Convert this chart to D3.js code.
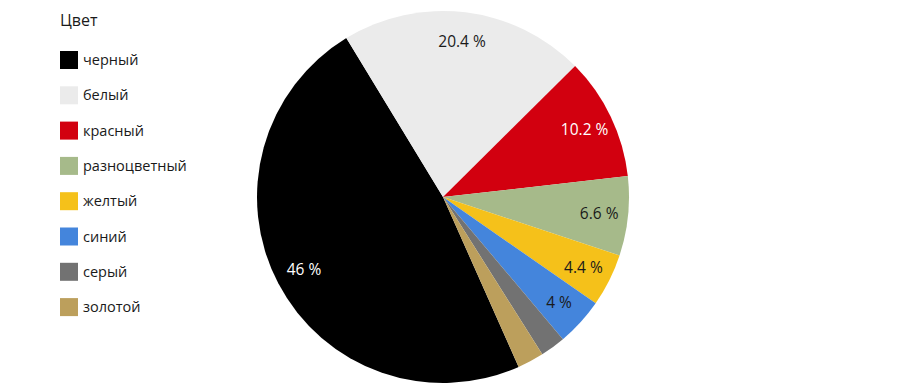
<!DOCTYPE html>
<html>
<head>
<meta charset="utf-8">
<script src="https://cdn.jsdelivr.net/npm/d3@7"></script>
<style>
    body { margin: 0; background: #fff; }
    text { font-family: "Open Sans", "Noto Sans", sans-serif; }
</style>
</head>
<body>
<script>
(function () {

//chart data
    var categories = ["черный", "белый", "красный", "разноцветный", "желтый", "синий", "серый", "золотой"];
    var shares = [46, 20.4, 10.2, 6.6, 4.4, 4, 2.1, 2.2]; //percent of all, small ones unlabeled
    var colors = ["#000000", "#ebebeb", "#d2000f", "#a6ba8a", "#f5c11a", "#4485dc", "#727272", "#bc9f5c"];
    var labelColors = ["#ffffff", "#1a1a1a", "#ffffff", "#1a1a1a", "#1a1a1a", "#1a1a1a", "#1a1a1a", "#1a1a1a"];
    var legendTitle = "Цвет";

    var width = 900,
        height = 386,
        cx = 443,
        cy = 197,
        radius = 186,
        startAngle = 156 * Math.PI / 180;

    var svg = d3.select("body")
        .append("svg")
        .attr("width", width)
        .attr("height", height);

    var data = categories.map(function (c, i) {
        return {name: c, value: shares[i], color: colors[i], labelColor: labelColors[i]};
    });

    var pie = d3.pie()
        .sort(null)
        .value(function (d) { return d.value; })
        .startAngle(startAngle)
        .endAngle(startAngle + 2 * Math.PI);

    var arc = d3.arc()
        .innerRadius(0)
        .outerRadius(radius);

    var labelArc = d3.arc()
        .innerRadius(157)
        .outerRadius(157);

    var g = svg.append("g")
        .attr("transform", "translate(" + cx + "," + cy + ")");

    var arcs = pie(data);

    g.selectAll(".slice")
        .data(arcs)
        .enter()
        .append("path")
        .attr("class", "slice")
        .attr("d", arc)
        .style("fill", function (d) { return d.data.color; });

    //labels only for slices big enough
    g.selectAll(".label")
        .data(arcs.filter(function (d) { return d.data.value >= 4; }))
        .enter()
        .append("text")
        .attr("class", "label")
        .attr("transform", function (d) {
            return "translate(" + labelArc.centroid(d) + ")";
        })
        .attr("text-anchor", "middle")
        .attr("dy", "0.35em")
        .style("font-size", "15.5px")
        .style("fill", function (d) { return d.data.labelColor; })
        .text(function (d) { return d.data.value + " %"; });

    //legend
    var legend = svg.append("g")
        .attr("transform", "translate(60,0)");

    legend.append("text")
        .attr("x", 0)
        .attr("y", 26)
        .style("font-size", "16px")
        .style("fill", "#1a1a1a")
        .text(legendTitle);

    var rowScale = d3.scaleBand()
        .domain(categories)
        .range([42, 42 + 35.3 * categories.length]);

    var rows = legend.selectAll(".row")
        .data(data)
        .enter()
        .append("g")
        .attr("class", "row")
        .attr("transform", function (d) {
            return "translate(0," + rowScale(d.name) + ")";
        });

    rows.append("rect")
        .attr("x", 0)
        .attr("y", 9)
        .attr("width", 18)
        .attr("height", 18)
        .style("fill", function (d) { return d.color; });

    rows.append("text")
        .attr("x", 23)
        .attr("y", 18)
        .attr("dy", "0.35em")
        .style("font-size", "14.5px")
        .style("fill", "#1a1a1a")
        .text(function (d) { return d.name; });

})();
</script>
</body>
</html>
